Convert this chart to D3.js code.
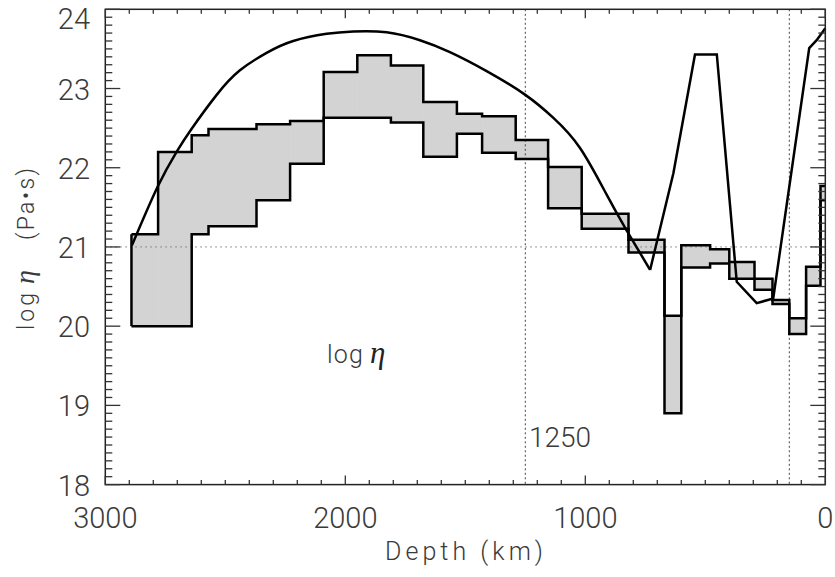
<!DOCTYPE html>
<html><head><meta charset="utf-8">
<script src="https://cdn.jsdelivr.net/npm/d3@7"></script>
<style>
html,body{margin:0;padding:0;background:#fff;}
svg{display:block;}
</style>
</head><body>
<svg id="chart" width="835" height="577"></svg>
<script>
// ---- data ----
const layerBounds = [2891, 2780, 2640, 2570, 2370, 2230, 2090, 1950, 1810, 1675, 1535, 1430, 1290, 1155, 1015, 820, 670, 600, 480, 400, 295, 220, 150, 80, 20, 0];
const upperLogEta = [21.16, 22.20, 22.41, 22.49, 22.55, 22.59, 23.21, 23.42, 23.29, 22.83, 22.68, 22.65, 22.35, 22.01, 21.42, 21.09, 20.13, 21.02, 20.97, 20.81, 20.60, 20.33, 20.10, 20.75, 21.77];
const lowerLogEta = [20.00, 20.00, 21.16, 21.26, 21.59, 22.05, 22.63, 22.63, 22.57, 22.14, 22.43, 22.19, 22.11, 21.49, 21.23, 20.93, 18.90, 20.74, 20.79, 20.60, 20.46, 20.28, 19.90, 20.51, 21.59];

const arcDepth = [2889, 2782, 2703, 2643, 2536, 2439, 2328, 2217, 2078, 1967, 1828, 1689, 1564, 1411, 1250, 1133, 1022, 911, 828, 730];
const arcValue = [21.02, 21.76, 22.20, 22.48, 22.92, 23.23, 23.45, 23.60, 23.69, 23.72, 23.71, 23.61, 23.46, 23.22, 22.92, 22.63, 22.25, 21.66, 21.21, 20.71];
const upperDepth = [730, 633, 543, 452, 369, 286, 217, 67, 36, 0];
const upperValue = [20.71, 21.93, 23.43, 23.43, 20.56, 20.29, 20.35, 23.51, 23.61, 23.76];

const xTickValues = [3000, 2000, 1000, 0];
const yTickValues = [18, 19, 20, 21, 22, 23, 24];
const refDepths = [1250, 150];
const refLogEta = 21;

// ---- layout ----
const svg = d3.select("#chart");
const L = 105.3, R = 825.3, T = 9.3, B = 484.6;
const x = d3.scaleLinear().domain([3000, 0]).range([L, R]);
const y = d3.scaleLinear().domain([18, 24]).range([B, T]);
const font = "Roboto, 'Liberation Sans', sans-serif";
const serif = "'Liberation Serif', 'DejaVu Serif', serif";
const fw = 300;
const textCol = "#3a3a3a";

svg.append("rect").attr("width", 835).attr("height", 577).attr("fill", "#fff");

// gray band fill
const layers = upperLogEta.map((u, i) => ({d0: layerBounds[i], d1: layerBounds[i + 1], u, l: lowerLogEta[i]}));
svg.append("g").selectAll("rect").data(layers).join("rect")
  .attr("x", d => x(d.d0)).attr("width", d => x(d.d1) - x(d.d0) + 0.5)
  .attr("y", d => y(d.u)).attr("height", d => y(d.l) - y(d.u))
  .attr("fill", "#d3d3d3");

// reference dotted lines
svg.append("line").attr("x1", L).attr("x2", R).attr("y1", y(refLogEta)).attr("y2", y(refLogEta))
  .attr("stroke", "#777").attr("stroke-width", 1).attr("stroke-dasharray", "1.5,3.5");
svg.append("g").selectAll("line").data(refDepths).join("line")
  .attr("x1", d => x(d)).attr("x2", d => x(d)).attr("y1", T).attr("y2", B)
  .attr("stroke", "#444").attr("stroke-width", 1).attr("stroke-dasharray", "2,2.5");

// step outlines
function stepPath(vals) {
  let p = d3.path();
  p.moveTo(x(layerBounds[0]), y(vals[0]));
  for (let i = 0; i < vals.length; i++) {
    if (i > 0) p.lineTo(x(layerBounds[i]), y(vals[i]));
    p.lineTo(x(layerBounds[i + 1]), y(vals[i]));
  }
  return p.toString();
}
const outline = svg.append("g").attr("fill", "none").attr("stroke", "#000").attr("stroke-width", 2.5).attr("stroke-linejoin", "miter");
outline.append("path").attr("d", stepPath(upperLogEta));
outline.append("path").attr("d", stepPath(lowerLogEta));
outline.append("line").attr("x1", x(layerBounds[0])).attr("x2", x(layerBounds[0]))
  .attr("y1", y(upperLogEta[0])).attr("y2", y(lowerLogEta[0]));

// profile line
const arcLine = d3.line().x(d => x(d[0])).y(d => y(d[1])).curve(d3.curveNatural);
const linLine = d3.line().x(d => x(d[0])).y(d => y(d[1]));
svg.append("path").attr("d", arcLine(arcDepth.map((d, i) => [d, arcValue[i]])))
  .attr("fill", "none").attr("stroke", "#000").attr("stroke-width", 2.5);
svg.append("path").attr("d", linLine(upperDepth.map((d, i) => [d, upperValue[i]])))
  .attr("fill", "none").attr("stroke", "#000").attr("stroke-width", 2.5).attr("stroke-linejoin", "miter");

// frame
svg.append("rect").attr("x", L).attr("y", T).attr("width", R - L).attr("height", B - T)
  .attr("fill", "none").attr("stroke", "#222").attr("stroke-width", 1.5);

// ticks
const xMinor = d3.range(0, 3001, 100);
const yMinor = d3.range(180, 241, 1).map(v => v / 10);
const tk = svg.append("g").attr("stroke", "#333").attr("stroke-width", 1.3);
xMinor.forEach(v => {
  const len = (v % 1000 === 0) ? 9 : 4.5;
  tk.append("line").attr("x1", x(v)).attr("x2", x(v)).attr("y1", B).attr("y2", B - len);
  tk.append("line").attr("x1", x(v)).attr("x2", x(v)).attr("y1", T).attr("y2", T + len);
});
yMinor.forEach(v => {
  const major = Math.abs(v - Math.round(v)) < 1e-6;
  const len = major ? 15 : 7;
  tk.append("line").attr("x1", L).attr("x2", L + len).attr("y1", y(v)).attr("y2", y(v));
  tk.append("line").attr("x1", R).attr("x2", R - len).attr("y1", y(v)).attr("y2", y(v));
});

// tick labels
svg.append("g").selectAll("text").data(xTickValues).join("text")
  .attr("x", d => x(d)).attr("y", 528).attr("text-anchor", "middle")
  .attr("font-family", font).attr("font-weight", fw).attr("font-size", 29).attr("fill", textCol)
  .text(d => d);
svg.append("g").selectAll("text").data(yTickValues).join("text")
  .attr("x", 90).attr("y", d => d === 24 ? y(d) + 20 : y(d) + 11).attr("text-anchor", "end")
  .attr("font-family", font).attr("font-weight", fw).attr("font-size", 29).attr("fill", textCol)
  .text(d => d);

// axis titles
svg.append("text").attr("x", 385).attr("y", 560)
  .attr("font-family", font).attr("font-weight", fw).attr("font-size", 25).attr("fill", textCol)
  .attr("textLength", 158).attr("lengthAdjust", "spacing")
  .text("Depth (km)");
const yt = svg.append("text").attr("transform", "translate(34,330) rotate(-90)")
  .attr("font-family", font).attr("font-weight", fw).attr("font-size", 23).attr("fill", textCol);
yt.append("tspan").attr("x", 0).attr("textLength", 37).attr("lengthAdjust", "spacing").text("log");
yt.append("tspan").attr("x", 46).attr("font-family", serif).attr("font-style", "italic").attr("font-weight", 400)
  .attr("font-size", 28).text("η");
yt.append("tspan").attr("x", 90).attr("textLength", 72).attr("lengthAdjust", "spacing").text("(Pa•s)");

// annotations
const an = svg.append("text").attr("x", 327).attr("y", 363)
  .attr("font-family", font).attr("font-weight", fw).attr("font-size", 25).attr("fill", textCol);
an.append("tspan").attr("textLength", 36).attr("lengthAdjust", "spacing").text("log");
an.append("tspan").attr("x", 370).attr("font-family", serif).attr("font-style", "italic").attr("font-weight", 400)
  .attr("font-size", 31).attr("fill", "#222").text("η");
svg.append("text").attr("x", 529).attr("y", 447)
  .attr("font-family", font).attr("font-weight", fw).attr("font-size", 28).attr("fill", textCol)
  .text("1250");
</script>
</body></html>
